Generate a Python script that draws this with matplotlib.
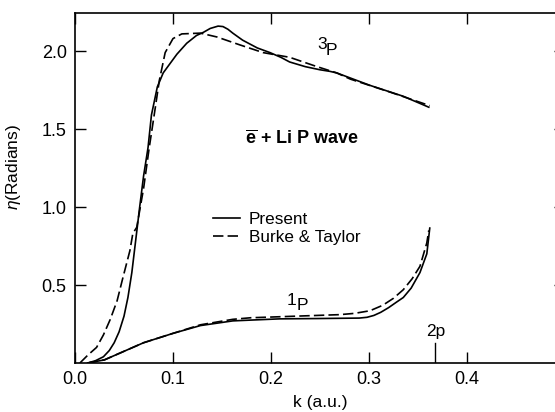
import matplotlib
matplotlib.use("Agg")
import matplotlib.pyplot as plt

plt.rcParams['font.family'] = ['Liberation Sans', 'DejaVu Sans']
plt.rcParams['mathtext.fontset'] = 'custom'
plt.rcParams['mathtext.rm'] = 'Liberation Sans'
plt.rcParams['mathtext.it'] = 'Liberation Sans:italic'
plt.rcParams['mathtext.bf'] = 'Liberation Sans:bold'
plt.rcParams['lines.scale_dashes'] = False

# 3P, present (solid)
k_3p_present = [0.013, 0.021, 0.029, 0.035, 0.040, 0.045, 0.050, 0.054, 0.058, 0.062,
                0.066, 0.070, 0.0745, 0.078, 0.084, 0.090, 0.097, 0.104, 0.114, 0.124,
                0.131, 0.138, 0.146, 0.151, 0.156, 0.161, 0.171, 0.186, 0.199, 0.210,
                0.219, 0.235, 0.250, 0.260, 0.267, 0.301, 0.335, 0.361]
eta_3p_present = [0.00, 0.015, 0.04, 0.08, 0.13, 0.20, 0.30, 0.42, 0.58, 0.79,
                  1.00, 1.20, 1.38, 1.59, 1.77, 1.86, 1.92, 1.98, 2.05, 2.10,
                  2.12, 2.145, 2.16, 2.157, 2.14, 2.115, 2.07, 2.02, 1.99, 1.96,
                  1.93, 1.90, 1.88, 1.87, 1.86, 1.78, 1.71, 1.64]
# 3P, Burke & Taylor (dashed)
k_3p_bt = [0.005, 0.013, 0.022, 0.029, 0.036, 0.043, 0.049, 0.056, 0.059, 0.063,
           0.070, 0.0755, 0.082, 0.086, 0.092, 0.100, 0.109, 0.128, 0.145, 0.168,
           0.192, 0.219, 0.247, 0.267, 0.281, 0.320, 0.362]
eta_3p_bt = [0.00, 0.05, 0.10, 0.18, 0.28, 0.40, 0.55, 0.72, 0.83, 0.87,
             1.12, 1.37, 1.64, 1.81, 1.99, 2.08, 2.11, 2.115, 2.09, 2.04,
             1.99, 1.96, 1.90, 1.86, 1.82, 1.74, 1.65]
# 1P, present (solid)
k_1p_present = [0.013, 0.030, 0.046, 0.070, 0.100, 0.128, 0.161, 0.179, 0.209, 0.247,
                0.290, 0.298, 0.305, 0.312, 0.320, 0.328, 0.335, 0.343, 0.352, 0.359,
                0.362]
eta_1p_present = [0.00, 0.02, 0.064, 0.13, 0.19, 0.24, 0.27, 0.275, 0.283, 0.285,
                  0.288, 0.293, 0.305, 0.325, 0.355, 0.39, 0.42, 0.48, 0.58, 0.70,
                  0.865]
# 1P, Burke & Taylor (dashed)
k_1p_bt = [0.013, 0.030, 0.046, 0.070, 0.100, 0.128, 0.161, 0.179, 0.247, 0.270,
           0.285, 0.301, 0.314, 0.325, 0.335, 0.344, 0.352, 0.359, 0.361]
eta_1p_bt = [0.00, 0.02, 0.064, 0.13, 0.19, 0.245, 0.28, 0.29, 0.305, 0.31,
             0.318, 0.335, 0.37, 0.415, 0.47, 0.54, 0.62, 0.77, 0.85]

k_2p = 0.367
mark_2p = [0.0, 0.128]

xticks = [0.0, 0.1, 0.2, 0.3, 0.4]
xticklabels = ["0.0", "0.1", "0.2", "0.3", "0.4"]
yticks = [0.5, 1.0, 1.5, 2.0]
yticklabels = ["0.5", "1.0", "1.5", "2.0"]

W, H = 555, 412
fig = plt.figure(figsize=(W / 100, H / 100), dpi=100)
ax = fig.add_axes([75 / W, 49 / H, 490 / W, 350 / H])

lw = 1.2
dash = (0, (7.5, 3.0))
l_solid, = ax.plot(k_3p_present, eta_3p_present, color='black', lw=lw, label='Present')
l_dash, = ax.plot(k_3p_bt, eta_3p_bt, color='black', lw=lw, linestyle=dash, label='Burke & Taylor')
ax.plot(k_1p_present, eta_1p_present, color='black', lw=lw)
ax.plot(k_1p_bt, eta_1p_bt, color='black', lw=lw, linestyle=dash)
ax.plot([k_2p, k_2p], mark_2p, color='black', lw=1.0)

ax.set_xlim(0, 0.5)
ax.set_ylim(0, 2.244)
ax.set_xticks(xticks)
ax.set_xticklabels(xticklabels)
ax.set_yticks(yticks)
ax.set_yticklabels(yticklabels)
ax.tick_params(direction='in', length=8, width=1.0, top=True, right=True,
               labelsize=13, pad=6)
for s in ax.spines.values():
    s.set_linewidth(1.2)

ax.set_xlabel("k (a.u.)", fontsize=12.5, labelpad=5)
ax.set_ylabel(r"$\eta$(Radians)", fontsize=12.5)
ax.yaxis.set_label_coords(-0.106, 0.56)

ax.text(0.173, 1.44, r"$\overline{\mathbf{e}}$ + Li P wave", fontsize=13,
        fontweight='bold', ha='left', va='center')
ax.text(0.252, 2.04, "3", fontsize=12.5, ha='center', va='center')
ax.text(0.262, 2.006, "P", fontsize=12.5, ha='center', va='center')
ax.text(0.221, 0.40, "1", fontsize=12.5, ha='center', va='center')
ax.text(0.232, 0.37, "P", fontsize=12.5, ha='center', va='center')
ax.text(0.368, 0.20, "2p", fontsize=12.5, ha='center', va='center')

ax.legend(handles=[l_solid, l_dash], loc='upper left',
          bbox_to_anchor=(213 / W, (H - 212) / H), bbox_transform=fig.transFigure,
          fontsize=12.3, handlelength=1.6, handletextpad=0.5, borderpad=0,
          borderaxespad=0, labelspacing=0.2, frameon=False)

fig.savefig("out.png", dpi=100)
